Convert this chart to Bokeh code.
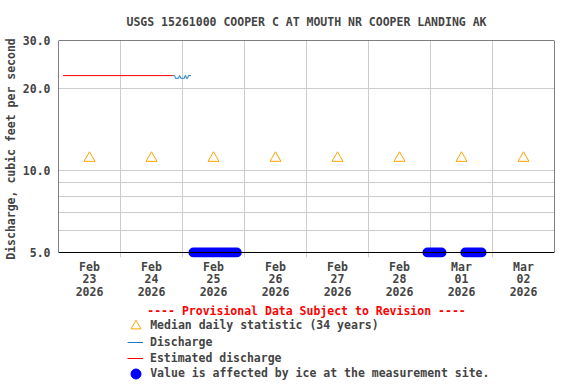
import pandas as pd
from bokeh.plotting import figure
from bokeh.layouts import column
from bokeh.models import (FixedTicker, Range1d, BoxAnnotation, Legend, LegendItem, Label)
from bokeh.embed import file_html
from bokeh.resources import INLINE

# ---------------- data ----------------
TITLE = "USGS 15261000 COOPER C AT MOUTH NR COOPER LANDING AK"
Y_LABEL = "Discharge, cubic feet per second"
NOTE = "---- Provisional Data Subject to Revision ----"

x_start = "2026-02-23 00:00"
x_end = "2026-03-03 00:00"

day_ticks = ["2026-02-23 12:00", "2026-02-24 12:00", "2026-02-25 12:00", "2026-02-26 12:00",
             "2026-02-27 12:00", "2026-02-28 12:00", "2026-03-01 12:00", "2026-03-02 12:00"]
day_labels = ["Feb\n23\n2026", "Feb\n24\n2026", "Feb\n25\n2026", "Feb\n26\n2026",
              "Feb\n27\n2026", "Feb\n28\n2026", "Mar\n01\n2026", "Mar\n02\n2026"]
grid_days = ["2026-02-24", "2026-02-25", "2026-02-26", "2026-02-27",
             "2026-02-28", "2026-03-01", "2026-03-02"]

y_ticks = [5, 10, 20, 30]
y_tick_labels = ["5.0", "10.0", "20.0", "30.0"]
y_grid = [6, 7, 8, 9, 10, 20]
y_min, y_max = 5, 30

# estimated discharge (red)
est_time = ["2026-02-23 01:45", "2026-02-24 20:15"]
est_q = [22.3, 22.3]

# discharge (blue)
dis_time = ["2026-02-24 20:15", "2026-02-24 21:00", "2026-02-24 21:15", "2026-02-24 22:30",
            "2026-02-24 22:45", "2026-02-24 23:00", "2026-02-24 23:15", "2026-02-25 00:45",
            "2026-02-25 01:00", "2026-02-25 01:15", "2026-02-25 01:30", "2026-02-25 02:00",
            "2026-02-25 02:15", "2026-02-25 03:15"]
dis_q = [22.3, 22.3, 21.8, 21.8, 22.3, 22.3, 21.8, 21.8, 22.3, 22.3, 21.8, 21.8, 22.3, 22.3]

# median daily statistic (34 years)
median_time = day_ticks
median_q = [11.1, 11.1, 11.1, 11.1, 11.1, 11.1, 11.1, 11.1]

# ice-affected periods (plotted at the bottom of the axis)
ice_start = ["2026-02-25 04:15", "2026-02-28 22:50", "2026-03-01 13:30"]
ice_end = ["2026-02-25 21:00", "2026-03-01 04:15", "2026-03-01 19:45"]
ice_q = [5, 5, 5]

LEGEND_LABELS = ["Median daily statistic (34 years)", "Discharge",
                 "Estimated discharge", "Value is affected by ice at the measurement site."]

C_MED = "#FFA500"
C_DIS = "#1A7CC7"
C_EST = "#FF0000"
C_ICE = "#0000FF"


def ms(s):
    return pd.Timestamp(s).value / 1e6


FONT = "DejaVu Sans Mono"
FS = "11.5px"

y_lo = 4.793  # leaves a few pixels below 5.0 so ice markers are not cut

p = figure(width=576, height=305, output_backend="svg", toolbar_location=None,
           y_axis_type="log",
           x_range=Range1d(ms(x_start), ms(x_end)),
           y_range=Range1d(y_lo, y_max),
           min_border_left=58, min_border_right=22, min_border_top=40, min_border_bottom=48)
p.outline_line_color = None
p.background_fill_color = "white"

# title
p.title.text = TITLE
p.title.align = "center"
p.title.text_font = FONT
p.title.text_font_size = FS
p.title.text_font_style = "bold"
p.title.standoff = 23

# grids
p.xgrid[0].ticker = FixedTicker(ticks=[ms(d) for d in grid_days])
p.ygrid[0].ticker = FixedTicker(ticks=y_grid)
p.xgrid[0].grid_line_color = "#cccccc"
p.ygrid[0].grid_line_color = "#cccccc"

# frame border
p.add_layout(BoxAnnotation(left=ms(x_start), right=ms(x_end), bottom=y_min, top=y_max,
                           fill_alpha=0, line_color="black", line_width=1, line_alpha=1))

# x axis
xa = p.xaxis[0]
xa.ticker = FixedTicker(ticks=[ms(t) for t in day_ticks])
xa.major_label_overrides = {ms(t): lab for t, lab in zip(day_ticks, day_labels)}
xa.axis_line_color = None
xa.major_tick_line_color = None
xa.minor_tick_line_color = None
xa.major_tick_out = 0
xa.major_tick_in = 0
xa.minor_tick_out = 0
xa.major_label_standoff = 2
xa.major_label_text_font = FONT
xa.major_label_text_font_size = FS
xa.major_label_text_font_style = "bold"
xa.major_label_text_line_height = 0.92

# y axis
ya = p.yaxis[0]
ya.ticker = FixedTicker(ticks=y_ticks)
ya.major_label_overrides = {t: lab for t, lab in zip(y_ticks, y_tick_labels)}
ya.axis_line_color = None
ya.major_tick_line_color = None
ya.minor_tick_line_color = None
ya.major_tick_out = 0
ya.major_tick_in = 0
ya.minor_tick_out = 0
ya.major_label_standoff = 8
ya.major_label_text_font = FONT
ya.major_label_text_font_size = FS
ya.major_label_text_font_style = "bold"
ya.axis_label = Y_LABEL
ya.axis_label_text_font = FONT
ya.axis_label_text_font_size = FS
ya.axis_label_text_font_style = "bold"
ya.axis_label_standoff = 2

# glyphs
med_x = [ms(t) for t in median_time]
dis_x = [ms(t) for t in dis_time]
est_x = [ms(t) for t in est_time]
p.scatter(med_x, median_q, marker="triangle", size=11,
          fill_color=None, line_color=C_MED, line_width=1)
p.line(dis_x, dis_q, line_color=C_DIS, line_width=1)
p.line(est_x, est_q, line_color=C_EST, line_width=1)
p.segment([ms(t) for t in ice_start], ice_q, [ms(t) for t in ice_end], ice_q,
          line_color=C_ICE, line_width=10, line_cap="round")

# ---------------- legend panel (frame is aligned with the chart frame) ----------------
q = figure(width=576, height=79, output_backend="svg", toolbar_location=None,
           x_range=Range1d(0, 1), y_range=Range1d(0, 79),
           x_axis_location=None, y_axis_location=None,
           min_border_left=0, min_border_right=0, min_border_top=0, min_border_bottom=0)
q.outline_line_color = None
q.grid.visible = False

# legend renderers: same series, they fall outside this panel's ranges
l_med = q.scatter(med_x, median_q, marker="triangle", size=11, fill_color=None, line_color=C_MED)
l_dis = q.line(dis_x, dis_q, line_color=C_DIS, line_width=1)
l_est = q.line(est_x, est_q, line_color=C_EST, line_width=1)
l_ice = q.scatter([ms(t) for t in ice_start], ice_q, marker="circle", size=9,
                  fill_color=C_ICE, line_color=C_ICE)

q.add_layout(Label(x=0.5, y=74, text=NOTE, text_align="center", text_baseline="middle",
                   text_color="#FF0000", text_font=FONT, text_font_size=FS,
                   text_font_style="bold"))

common = dict(orientation="vertical", padding=0, margin=0,
              label_text_font=FONT, label_text_font_size=FS, label_text_font_style="bold",
              border_line_color=None, background_fill_alpha=0)

# marker entries (1st and 4th lines): larger glyph box gives larger symbols
leg_markers = Legend(items=[LegendItem(label=LEGEND_LABELS[0], renderers=[l_med]),
                            LegendItem(label=LEGEND_LABELS[3], renderers=[l_ice])],
                     location=(65.2, -1.5), spacing=23,
                     glyph_width=25, glyph_height=25, label_height=25, label_standoff=2,
                     **common)
# line entries (2nd and 3rd lines)
leg_lines = Legend(items=[LegendItem(label=LEGEND_LABELS[1], renderers=[l_dis]),
                          LegendItem(label=LEGEND_LABELS[2], renderers=[l_est])],
                   location=(69, 18.5), spacing=0,
                   glyph_width=16, glyph_height=16, label_height=16, label_standoff=7,
                   **common)
q.add_layout(leg_markers, "center")
q.add_layout(leg_lines, "center")

open("out.html", "w").write(file_html(column(p, q, spacing=0), INLINE))
